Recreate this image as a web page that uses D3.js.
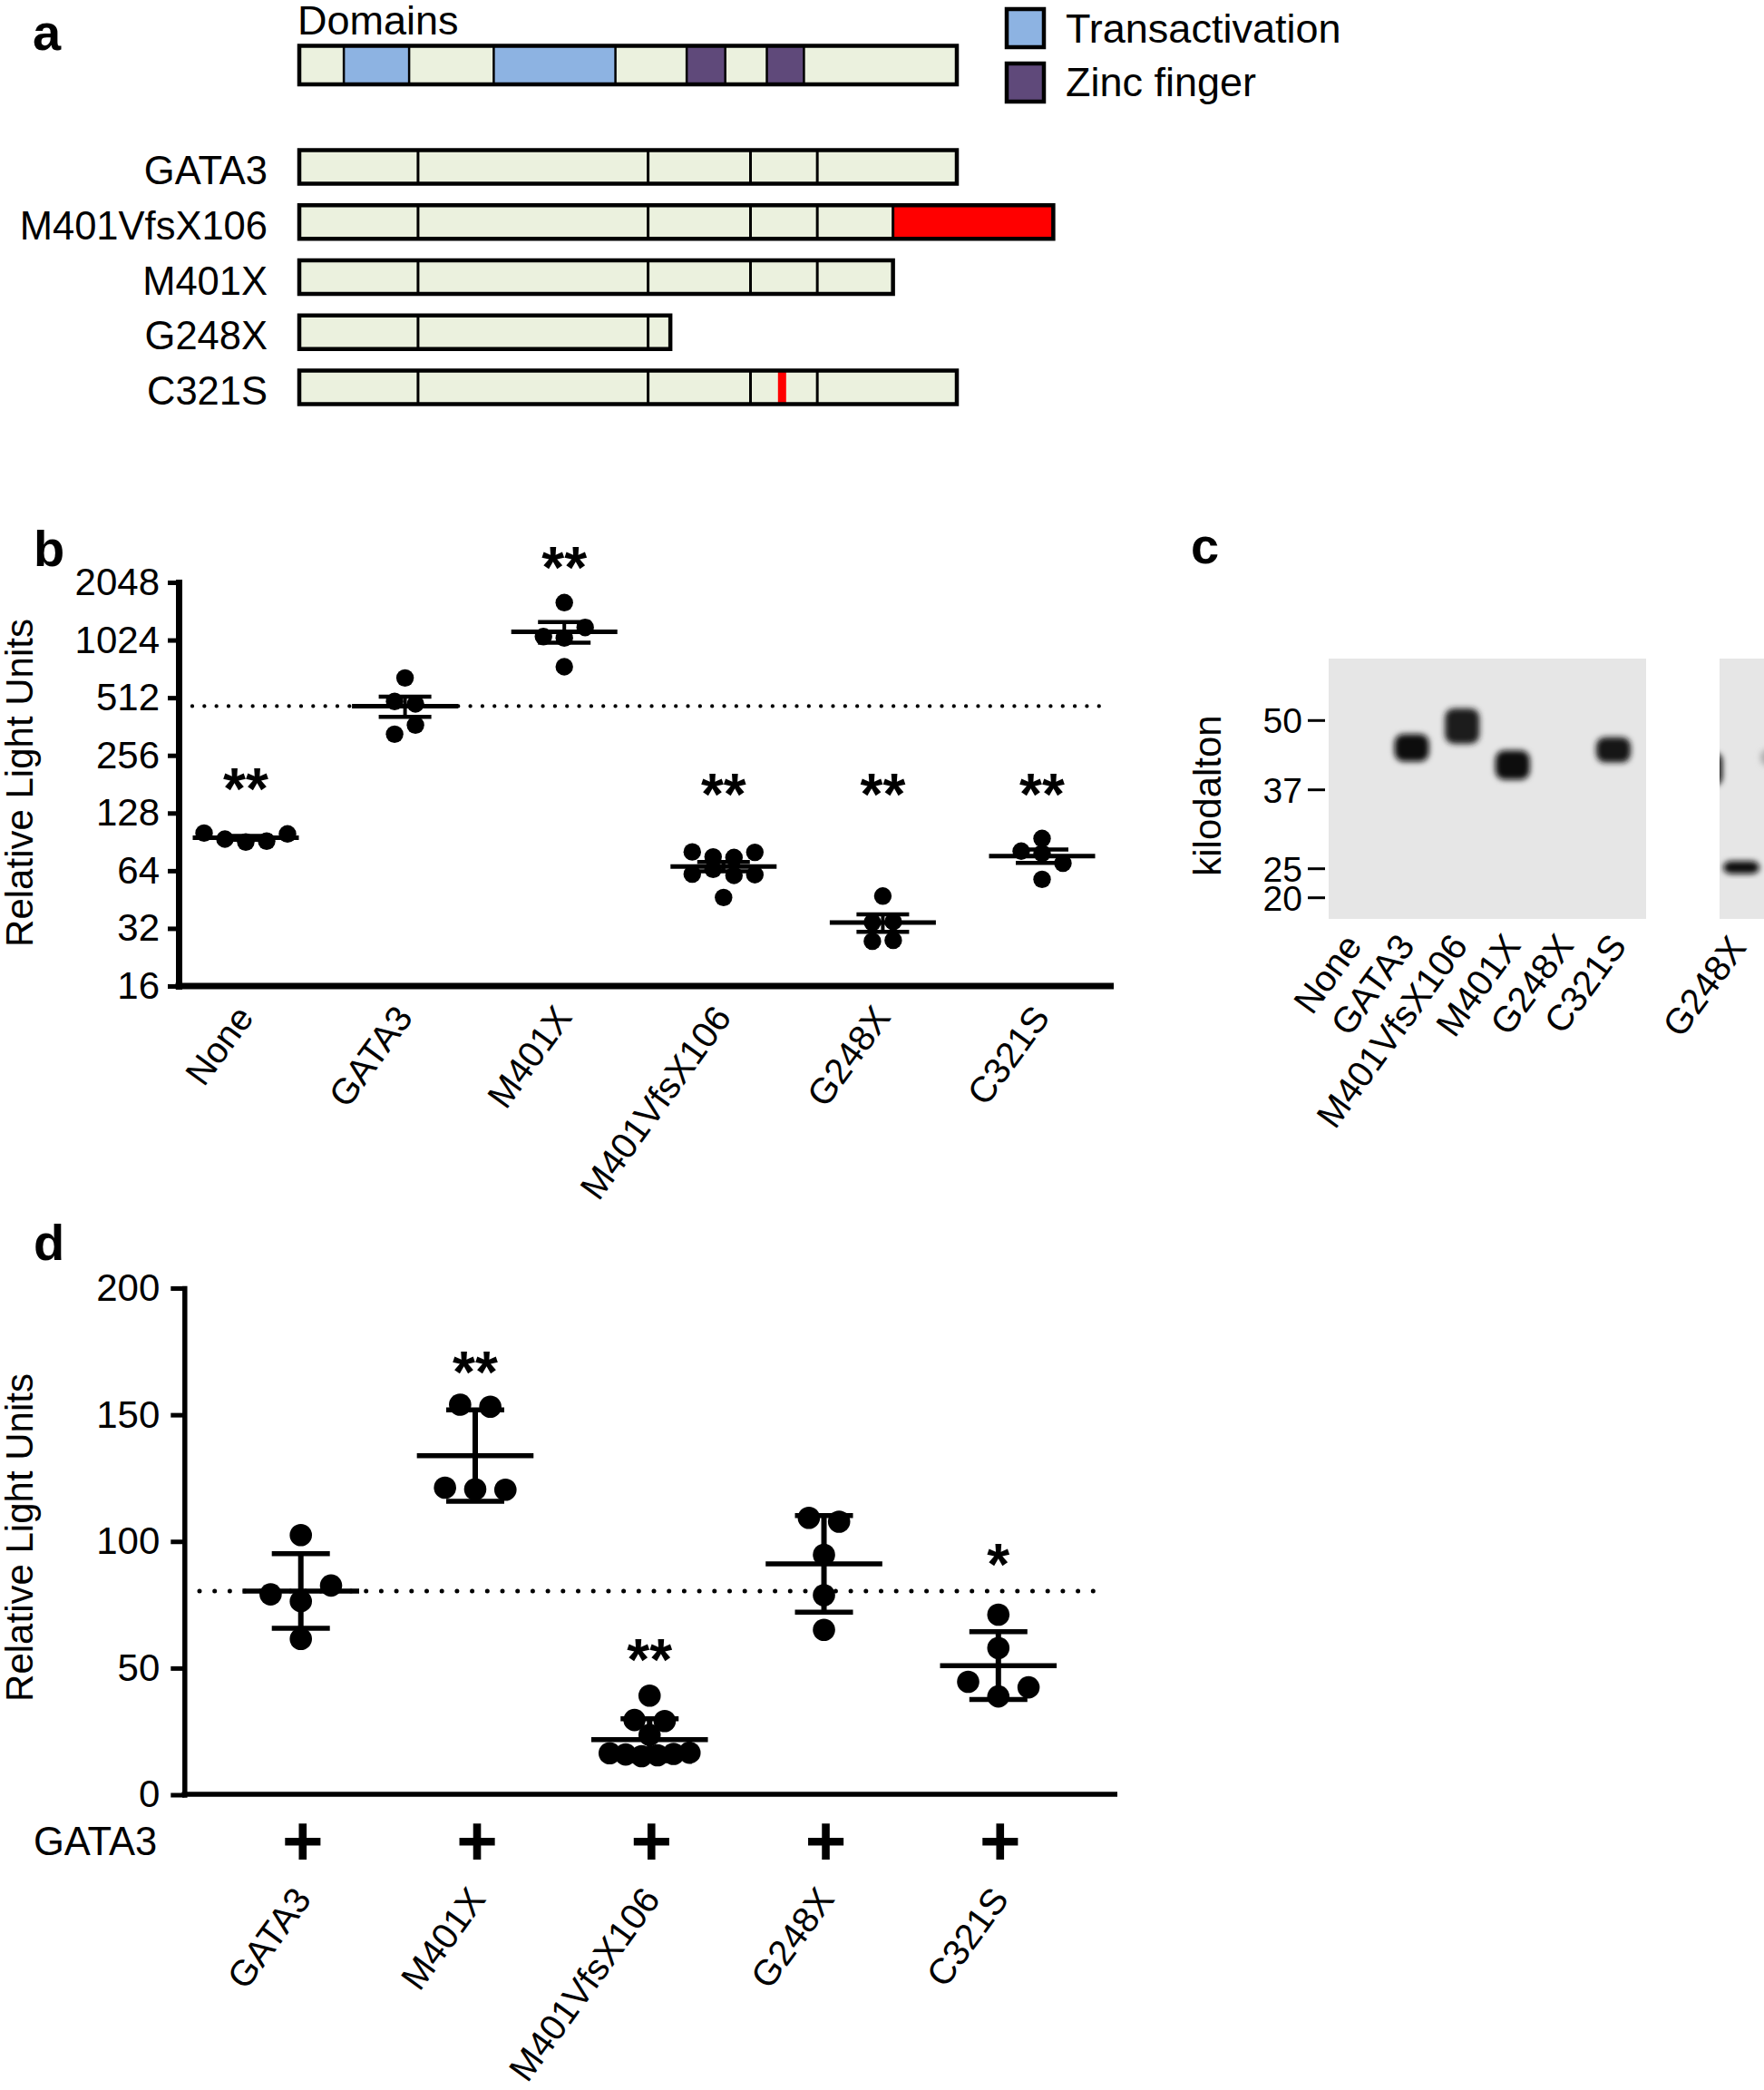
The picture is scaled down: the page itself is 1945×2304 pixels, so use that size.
<!DOCTYPE html>
<html><head><meta charset="utf-8">
<script src="https://cdn.jsdelivr.net/npm/d3@7"></script>
<style>
html,body{margin:0;padding:0;background:#fff;}
svg{display:block;}
text{font-family:"Liberation Sans", Arial, Helvetica, sans-serif; fill:#000;}
</style></head><body>
<svg id="fig" width="1945" height="2304"></svg>
<script>
// ================= DATA =================
// ---- panel a : protein constructs (amino-acid coordinates)
const proteinLength = 443;
const domainTypes = ["Transactivation","Transactivation","Zinc finger","Zinc finger"];
const domainStart = [30,131,261,315];
const domainEnd   = [74,213,287,340];
const exonBoundaries = [80,235,304,349];
const constructNames = ["GATA3","M401VfsX106","M401X","G248X","C321S"];
const constructNativeEnd = [443,400,400,250,443];
const constructFrameshiftEnd = [null,508,null,null,null];
const constructPointMutation = [null,null,null,null,321];
const legendNames = ["Transactivation","Zinc finger"];

// ---- panel b : luciferase, log2 scale, mean ± SEM
const bCategories = ["None","GATA3","M401X","M401VfsX106","G248X","C321S"];
const bNone = [100.6,93.6,90.3,91.3,99.6];
const bGATA3 = [649.5,489.2,475.1,330.3,368.4];
const bM401X = [1606,1068,1050,1191,743];
const bM401VfsX106 = [80.2,75.6,75.0,79.8,61.4,65.1,60.5,61.0,46.4];
const bG248X = [47.2,34.4,34.7,27.4,27.7];
const bC321S = [94.3,81.0,78.9,70.0,57.7];
const bTicks = [16,32,64,128,256,512,1024,2048];
const bSignificance = ["**","","**","**","**","**"];
const bSignificanceAt = [199,null,2848,188,188,188];

// ---- panel c : western blot (kDa)
const blotLanes = ["None","GATA3","M401VfsX106","M401X","G248X","C321S"];
const blotMarkers = [50,37,25,20];
const blotBandTop    = [null,47.9,52.7,44.8,null,47.3];
const blotBandBottom = [null,41.9,45.2,38.5,null,41.7];
const blotBandDarkness = [0,0.97,0.88,0.97,0,0.94];
const blot2Lanes = ["prev","G248X","next"];
const blot2Labels = ["","G248X",""];
const blot2BandTop    = [44.4,26.5,45.1];
const blot2BandBottom = [37.4,23.75,41.0];
const blot2BandDarkness = [0.97,0.97,0.25];

// ---- panel d : co-transfection with GATA3, linear, mean ± SD
const dCategories = ["GATA3","M401X","M401VfsX106","G248X","C321S"];
const dGATA3 = [102.5,79.1,76.4,82.6,61.5];
const dM401X = [154.0,153.2,121.2,120.6,120.4];
const dM401VfsX106 = [39.1,29.5,29.1,23.6,16.4,15.9,15.2,15.6,16.1,16.6];
const dG248X = [109.3,107.8,94.7,78.8,65.1];
const dC321S = [71.1,57.9,44.6,38.8,42.4];
const dTicks = [0,50,100,150,200];
const dSignificance = ["","**","**","","*"];
const dSignificanceAt = [null,172,58.5,null,95.8];
const dCotransfected = ["+","+","+","+","+"];

// ================= HELPERS =================
const FONT = '"Liberation Sans", Arial, Helvetica, sans-serif';
const svg = d3.select("#fig");
svg.append("rect").attr("width",1945).attr("height",2304).attr("fill","#fff");

function swarm(values, yPos, spacing, maxHalf, thresh){
  const pts = values.map((v,i)=>({v,i,py:yPos(v),dx:0}));
  const sorted = [...pts].sort((a,b)=>a.py-b.py);
  const rows=[]; let cur=[];
  for(const p of sorted){
    if(cur.length && p.py-cur[cur.length-1].py>thresh){rows.push(cur);cur=[];}
    cur.push(p);
  }
  if(cur.length) rows.push(cur);
  for(const row of rows){
    row.sort((a,b)=>a.i-b.i);
    const n=row.length;
    const s = n>1 ? Math.min(spacing, 2*maxHalf/(n-1)) : 0;
    row.forEach((p,k)=>p.dx=(k-(n-1)/2)*s);
  }
  return pts;
}

function drawGroup(g, values, cx, yScale, o){
  const m = d3.mean(values);
  const sd = d3.deviation(values);
  const err = o.sem ? sd/Math.sqrt(values.length) : sd;
  const pts = swarm(values, yScale, o.spacing, o.maxHalf, o.thresh);
  g.append("g").selectAll("circle").data(pts).join("circle")
    .attr("cx",p=>cx+p.dx).attr("cy",p=>p.py).attr("r",o.r).attr("fill","#000");
  g.append("line").attr("x1",cx).attr("x2",cx).attr("y1",yScale(m-err)).attr("y2",yScale(m+err))
    .attr("stroke","#000").attr("stroke-width",o.vw);
  [m-err, m+err].forEach(v=>{
    g.append("line").attr("x1",cx-o.capHalf).attr("x2",cx+o.capHalf)
      .attr("y1",yScale(v)).attr("y2",yScale(v)).attr("stroke","#000").attr("stroke-width",o.cw);
  });
  g.append("line").attr("x1",cx-o.meanHalf).attr("x2",cx+o.meanHalf)
    .attr("y1",yScale(m)).attr("y2",yScale(m)).attr("stroke","#000").attr("stroke-width",o.mw);
  return m;
}

function panelLetter(t,x,y){
  svg.append("text").text(t).attr("x",x).attr("y",y)
    .attr("font-size",56).attr("font-weight","bold");
}

// ================= PANEL A =================
{
  const aa = d3.scaleLinear().domain([0,proteinLength]).range([330,1055]);
  const rowY = d3.scalePoint().domain(constructNames).range([184,427]);
  const domColor = d3.scaleOrdinal().domain(legendNames).range(["#8DB3E2","#5F497A"]);
  const fillLight = "#EBF1DE";
  panelLetter("a",36,55);
  svg.append("text").text("Domains").attr("x",328).attr("y",38).attr("font-size",45);

  const dy0 = 50.5, dh = 42.5;
  const gd = svg.append("g");
  gd.append("rect").attr("x",aa(0)).attr("y",dy0).attr("width",aa(proteinLength)-aa(0)).attr("height",dh)
    .attr("fill",fillLight);
  gd.selectAll("rect.dom").data(domainTypes).join("rect").attr("class","dom")
    .attr("x",(d,i)=>aa(domainStart[i])).attr("width",(d,i)=>aa(domainEnd[i])-aa(domainStart[i]))
    .attr("y",dy0).attr("height",dh).attr("fill",d=>domColor(d)).attr("stroke","#000").attr("stroke-width",2.5);
  gd.append("rect").attr("x",aa(0)).attr("y",dy0).attr("width",aa(proteinLength)-aa(0)).attr("height",dh)
    .attr("fill","none").attr("stroke","#000").attr("stroke-width",4.5);

  const lg = svg.append("g");
  legendNames.forEach((n,i)=>{
    lg.append("rect").attr("x",1110).attr("y",10+i*60).attr("width",41).attr("height",42)
      .attr("fill",domColor(n)).attr("stroke","#000").attr("stroke-width",4.5);
    lg.append("text").text(n).attr("x",1175).attr("y",47+i*59).attr("font-size",45);
  });

  const bh = 37;
  constructNames.forEach((name,i)=>{
    const cy = rowY(name);
    const g = svg.append("g");
    const end = constructFrameshiftEnd[i] || constructNativeEnd[i];
    g.append("text").text(name).attr("x",295).attr("y",cy+19).attr("font-size",43.5).attr("text-anchor","end");
    g.append("rect").attr("x",aa(0)).attr("y",cy-bh/2).attr("width",aa(end)-aa(0)).attr("height",bh).attr("fill",fillLight);
    if(constructFrameshiftEnd[i]){
      g.append("rect").attr("x",aa(constructNativeEnd[i])).attr("y",cy-bh/2)
        .attr("width",aa(constructFrameshiftEnd[i])-aa(constructNativeEnd[i])).attr("height",bh)
        .attr("fill","#FF0000").attr("stroke","#000").attr("stroke-width",3);
    }
    if(constructPointMutation[i]){
      const p = constructPointMutation[i];
      g.append("rect").attr("x",aa(p+1.5)).attr("y",cy-bh/2).attr("width",aa(p+7)-aa(p+1.5)).attr("height",bh)
        .attr("fill","#FF0000");
    }
    exonBoundaries.filter(b=>b<constructNativeEnd[i]).forEach(b=>{
      g.append("line").attr("x1",aa(b)).attr("x2",aa(b)).attr("y1",cy-bh/2).attr("y2",cy+bh/2)
        .attr("stroke","#000").attr("stroke-width",3);
    });
    g.append("rect").attr("x",aa(0)).attr("y",cy-bh/2).attr("width",aa(end)-aa(0)).attr("height",bh)
      .attr("fill","none").attr("stroke","#000").attr("stroke-width",4.5);
  });
}

// ================= PANEL B =================
{
  panelLetter("b",37,624);
  const y = d3.scaleLog().base(2).domain([16,2048]).range([1087,642]);
  const x = d3.scalePoint().domain(bCategories).range([271,1149]);
  const groups = [bNone,bGATA3,bM401X,bM401VfsX106,bG248X,bC321S];
  const g = svg.append("g");
  const ref = d3.mean(bGATA3);
  g.append("line").attr("x1",212).attr("x2",1214).attr("y1",y(ref)).attr("y2",y(ref))
    .attr("stroke","#000").attr("stroke-width",4.3).attr("stroke-linecap","round").attr("stroke-dasharray","0,13.33");
  groups.forEach((vals,i)=>{
    drawGroup(g, vals, x(bCategories[i]), y, {sem:true,r:9.7,spacing:23,maxHalf:48,thresh:11.6,
      vw:4,cw:4.5,mw:5,capHalf:29,meanHalf:58.5});
  });
  g.selectAll("text.sig").data(bCategories.filter((c,i)=>bSignificance[i])).join("text").attr("class","sig")
    .attr("x",c=>x(c)).attr("y",c=>y(bSignificanceAt[bCategories.indexOf(c)])+0.57*64)
    .attr("text-anchor","middle").attr("font-size",64).attr("font-weight","bold")
    .text(c=>bSignificance[bCategories.indexOf(c)]);
  const ax = svg.append("g").attr("transform","translate(197,0)")
    .call(d3.axisLeft(y).tickValues(bTicks).tickFormat(d=>String(d)).tickSize(12).tickSizeOuter(0).tickPadding(9));
  ax.attr("font-family",FONT).attr("font-size",42);
  ax.select(".domain").attr("stroke","#000").attr("stroke-width",7).attr("stroke-linecap","square");
  ax.selectAll(".tick line").attr("stroke","#000").attr("stroke-width",5);
  ax.selectAll(".tick text").attr("fill","#000");
  svg.append("line").attr("x1",193.5).attr("x2",1228).attr("y1",1087).attr("y2",1087)
    .attr("stroke","#000").attr("stroke-width",7);
  svg.append("g").selectAll("text").data(bCategories).join("text")
    .attr("transform",c=>`translate(${x(c)+10},1122) rotate(-54)`)
    .attr("text-anchor","end").attr("font-size",40).text(c=>c);
  svg.append("text").text("Relative Light Units").attr("transform","translate(36,863) rotate(-90)")
    .attr("text-anchor","middle").attr("font-size",42);
}

// ================= PANEL C =================
{
  svg.append("text").text("c").attr("x",1313).attr("y",621).attr("font-size",56).attr("font-weight","bold");
  const mw = d3.scaleLinear().domain(blotMarkers).range([794.3,870.7,957.7,989.7]);
  const lane = d3.scalePoint().domain(blotLanes).range([1501,1779]);
  const laneLabel = d3.scalePoint().domain(blotLanes).range([1503,1795]);
  const lane2 = d3.scalePoint().domain(blot2Lanes).range([1879,1961]);
  const defs = svg.append("defs");
  defs.append("filter").attr("id","blur").attr("x","-40%").attr("y","-40%").attr("width","180%").attr("height","180%")
    .append("feGaussianBlur").attr("stdDeviation",3.2);
  defs.append("clipPath").attr("id","clip1").append("rect").attr("x",1465).attr("y",726).attr("width",350).attr("height",287);
  defs.append("clipPath").attr("id","clip2").append("rect").attr("x",1896).attr("y",726).attr("width",60).attr("height",287);
  const bg = "#e6e6e6";
  svg.append("rect").attr("x",1465).attr("y",726).attr("width",350).attr("height",287).attr("fill",bg);
  svg.append("rect").attr("x",1896).attr("y",726).attr("width",60).attr("height",287).attr("fill",bg);
  const shade = k => d3.interpolateRgb(bg,"#040404")(k);
  const g1 = svg.append("g").attr("clip-path","url(#clip1)");
  g1.selectAll("rect").data(blotLanes.map((l,i)=>({l,i})).filter(d=>blotBandTop[d.i]!=null)).join("rect")
    .attr("x",d=>lane(d.l)-19).attr("width",38)
    .attr("y",d=>mw(blotBandTop[d.i])+2.5).attr("height",d=>mw(blotBandBottom[d.i])-mw(blotBandTop[d.i])-5)
    .attr("rx",10).attr("fill",d=>shade(blotBandDarkness[d.i])).attr("filter","url(#blur)");
  const g2 = svg.append("g").attr("clip-path","url(#clip2)");
  g2.selectAll("rect").data(blot2Lanes.map((l,i)=>({l,i}))).join("rect")
    .attr("x",d=>lane2(d.l)-20).attr("width",40)
    .attr("y",d=>mw(blot2BandTop[d.i])+2.5).attr("height",d=>mw(blot2BandBottom[d.i])-mw(blot2BandTop[d.i])-5)
    .attr("rx",9).attr("fill",d=>shade(blot2BandDarkness[d.i])).attr("filter","url(#blur)");
  blotMarkers.forEach(m=>{
    svg.append("line").attr("x1",1442).attr("x2",1461).attr("y1",mw(m)).attr("y2",mw(m)).attr("stroke","#000").attr("stroke-width",3);
    svg.append("text").text(m).attr("x",1436).attr("y",mw(m)+14).attr("text-anchor","end").attr("font-size",39);
  });
  svg.append("text").text("kilodalton").attr("transform","translate(1346,877) rotate(-90)")
    .attr("text-anchor","middle").attr("font-size",42);
  svg.append("g").selectAll("text").data(blotLanes).join("text")
    .attr("transform",l=>`translate(${laneLabel(l)},1043) rotate(-54)`)
    .attr("text-anchor","end").attr("font-size",40).text(l=>l);
  svg.append("g").selectAll("text").data(blot2Lanes.filter((l,i)=>blot2Labels[i])).join("text")
    .attr("transform",l=>`translate(${lane2(l)+7},1045) rotate(-54)`)
    .attr("text-anchor","end").attr("font-size",40).text(l=>blot2Labels[blot2Lanes.indexOf(l)]);
}

// ================= PANEL D =================
{
  panelLetter("d",37,1389);
  const y = d3.scaleLinear().domain([0,200]).range([1978.5,1420]);
  const x = d3.scalePoint().domain(dCategories).range([331.7,1100.8]);
  const groups = [dGATA3,dM401X,dM401VfsX106,dG248X,dC321S];
  const g = svg.append("g");
  const ref = d3.mean(dGATA3);
  g.append("line").attr("x1",220).attr("x2",1214).attr("y1",y(ref)).attr("y2",y(ref))
    .attr("stroke","#000").attr("stroke-width",5).attr("stroke-linecap","round").attr("stroke-dasharray","0,16.7");
  groups.forEach((vals,i)=>{
    drawGroup(g, vals, x(dCategories[i]), y, {sem:false,r:12.3,spacing:33.3,maxHalf:44,thresh:14.8,
      vw:6,cw:5.5,mw:5.5,capHalf:32,meanHalf:64.3});
  });
  g.selectAll("text.sig").data(dCategories.filter((c,i)=>dSignificance[i])).join("text").attr("class","sig")
    .attr("x",c=>x(c)).attr("y",c=>y(dSignificanceAt[dCategories.indexOf(c)])+0.57*64)
    .attr("text-anchor","middle").attr("font-size",64).attr("font-weight","bold")
    .text(c=>dSignificance[dCategories.indexOf(c)]);
  const ax = svg.append("g").attr("transform","translate(203.3,0)")
    .call(d3.axisLeft(y).tickValues(dTicks).tickSize(15).tickSizeOuter(0).tickPadding(12));
  ax.attr("font-family",FONT).attr("font-size",42);
  ax.select(".domain").attr("stroke","#000").attr("stroke-width",5.5).attr("stroke-linecap","square");
  ax.selectAll(".tick line").attr("stroke","#000").attr("stroke-width",5);
  ax.selectAll(".tick text").attr("fill","#000");
  svg.append("line").attr("x1",200.5).attr("x2",1232).attr("y1",1978).attr("y2",1978)
    .attr("stroke","#000").attr("stroke-width",5.7);
  svg.append("text").text("GATA3").attr("x",37).attr("y",2045).attr("font-size",43.5);
  svg.append("g").selectAll("text").data(dCategories).join("text")
    .attr("x",c=>x(c)+2).attr("y",2056).attr("text-anchor","middle").attr("font-size",78).attr("font-weight","bold")
    .text((c,i)=>dCotransfected[i]);
  svg.append("g").selectAll("text").data(dCategories).join("text")
    .attr("transform",c=>`translate(${x(c)+13},2094) rotate(-54)`)
    .attr("text-anchor","end").attr("font-size",40).text(c=>c);
  svg.append("text").text("Relative Light Units").attr("transform","translate(36,1695) rotate(-90)")
    .attr("text-anchor","middle").attr("font-size",42);
}
</script>
</body></html>
